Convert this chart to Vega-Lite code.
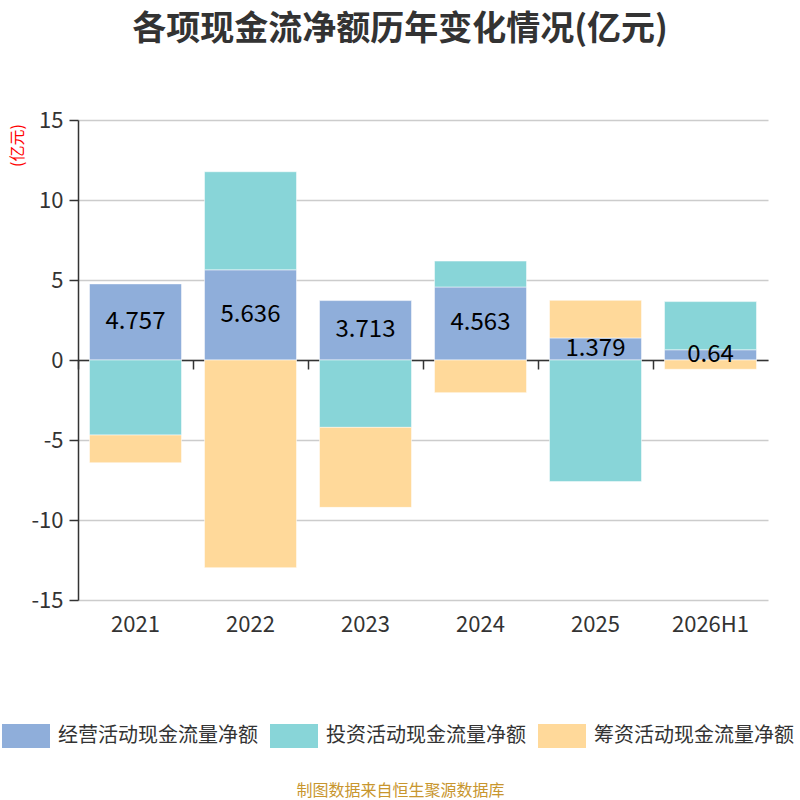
{
  "$schema": "https://vega.github.io/schema/vega-lite/v6.json",
  "width": 690,
  "height": 480,
  "autosize": "none",
  "padding": {"left": 78, "top": 120, "right": 32, "bottom": 200},
  "background": "white",
  "title": {
    "text": "各项现金流净额历年变化情况(亿元)",
    "fontSize": 34,
    "fontWeight": "bold",
    "color": "#333333",
    "font": "Noto Sans CJK SC",
    "anchor": "middle",
    "dx": -23,
    "offset": 62
  },
  "config": {"view": {"stroke": null}, "font": "Noto Sans CJK SC"},
  "data": {
    "values": [
      {"year": "2021", "type": "经营活动现金流量净额", "value": 4.757},
      {"year": "2021", "type": "投资活动现金流量净额", "value": -4.69},
      {"year": "2021", "type": "筹资活动现金流量净额", "value": -1.73},
      {"year": "2022", "type": "经营活动现金流量净额", "value": 5.636},
      {"year": "2022", "type": "投资活动现金流量净额", "value": 6.13},
      {"year": "2022", "type": "筹资活动现金流量净额", "value": -12.98},
      {"year": "2023", "type": "经营活动现金流量净额", "value": 3.713},
      {"year": "2023", "type": "投资活动现金流量净额", "value": -4.21},
      {"year": "2023", "type": "筹资活动现金流量净额", "value": -5.0},
      {"year": "2024", "type": "经营活动现金流量净额", "value": 4.563},
      {"year": "2024", "type": "投资活动现金流量净额", "value": 1.62},
      {"year": "2024", "type": "筹资活动现金流量净额", "value": -2.04},
      {"year": "2025", "type": "经营活动现金流量净额", "value": 1.379},
      {"year": "2025", "type": "投资活动现金流量净额", "value": -7.6},
      {"year": "2025", "type": "筹资活动现金流量净额", "value": 2.35},
      {"year": "2026H1", "type": "经营活动现金流量净额", "value": 0.64},
      {"year": "2026H1", "type": "投资活动现金流量净额", "value": 3.01},
      {"year": "2026H1", "type": "筹资活动现金流量净额", "value": -0.58}
    ]
  },
  "layer": [
    {
      "transform": [
        {"window": [{"op": "row_number", "as": "seq"}], "groupby": ["year"]}
      ],
      "mark": {"type": "bar", "stroke": "white", "strokeWidth": 0.5},
      "encoding": {
        "x": {
          "field": "year",
          "type": "ordinal",
          "sort": null,
          "scale": {"paddingInner": 0.2, "paddingOuter": 0.1},
          "axis": {
            "orient": "bottom",
            "domain": false,
            "ticks": false,
            "labelAngle": 0,
            "labelFontSize": 22,
            "labelColor": "#333333",
            "labelPadding": 14,
            "title": "制图数据来自恒生聚源数据库",
            "titleColor": "#C8962E",
            "titleFontSize": 16,
            "titleFontWeight": "normal",
            "titleX": 322,
            "titleY": 190,
            "titleBaseline": "middle"
          }
        },
        "y": {
          "field": "value",
          "type": "quantitative",
          "stack": "zero",
          "scale": {"domain": [-15, 15], "nice": false},
          "axis": {
            "values": [-15, -10, -5, 0, 5, 10, 15],
            "labelExpr": "replace(datum.label, '−', '-')",
            "domainColor": "#333333",
            "domainWidth": 1.5,
            "tickColor": "#333333",
            "tickSize": 9,
            "tickWidth": 1.5,
            "labelFontSize": 22,
            "labelColor": "#333333",
            "labelPadding": 6,
            "gridColor": "#CCCCCC",
            "gridWidth": 1.5,
            "title": "(亿元)",
            "titleColor": "#FF0000",
            "titleFontSize": 16,
            "titleFontWeight": "normal",
            "titleX": -61,
            "titleY": 25,
            "titleBaseline": "middle",
            "titleAlign": "center"
          }
        },
        "color": {
          "field": "type",
          "type": "nominal",
          "scale": {
            "domain": ["经营活动现金流量净额", "投资活动现金流量净额", "筹资活动现金流量净额"],
            "range": ["#8FAEDA", "#88D5D8", "#FFD99A"]
          },
          "legend": {
            "orient": "none",
            "legendX": -76,
            "legendY": 592,
            "direction": "horizontal",
            "title": null,
            "symbolType": "M-1,-0.5H1V0.5H-1Z",
            "symbolSize": 2304,
            "symbolStrokeWidth": 0,
            "symbolOpacity": 1,
            "labelFontSize": 20,
            "labelColor": "#333333",
            "labelLimit": 300,
            "labelOffset": 8,
            "columnPadding": 12
          }
        },
        "order": {"field": "seq", "type": "quantitative", "sort": "ascending"}
      }
    },
    {
      "transform": [{"filter": "datum.type === '经营活动现金流量净额'"}],
      "mark": {"type": "text", "fontSize": 24, "color": "#000000"},
      "encoding": {
        "x": {
          "field": "year",
          "type": "ordinal",
          "sort": null,
          "axis": {
            "orient": "bottom",
            "offset": -240,
            "labels": false,
            "title": null,
            "domain": true,
            "domainColor": "#333333",
            "domainWidth": 1.5,
            "ticks": true,
            "tickColor": "#333333",
            "tickSize": 9,
            "tickWidth": 1.5,
            "bandPosition": -0.125,
            "grid": false
          }
        },
        "y": {
          "field": "value",
          "type": "quantitative",
          "scale": {"domain": [-30, 30], "nice": false},
          "axis": null
        },
        "text": {"field": "value", "type": "quantitative"}
      }
    }
  ],
  "resolve": {"scale": {"y": "independent"}, "axis": {"x": "independent"}}
}
